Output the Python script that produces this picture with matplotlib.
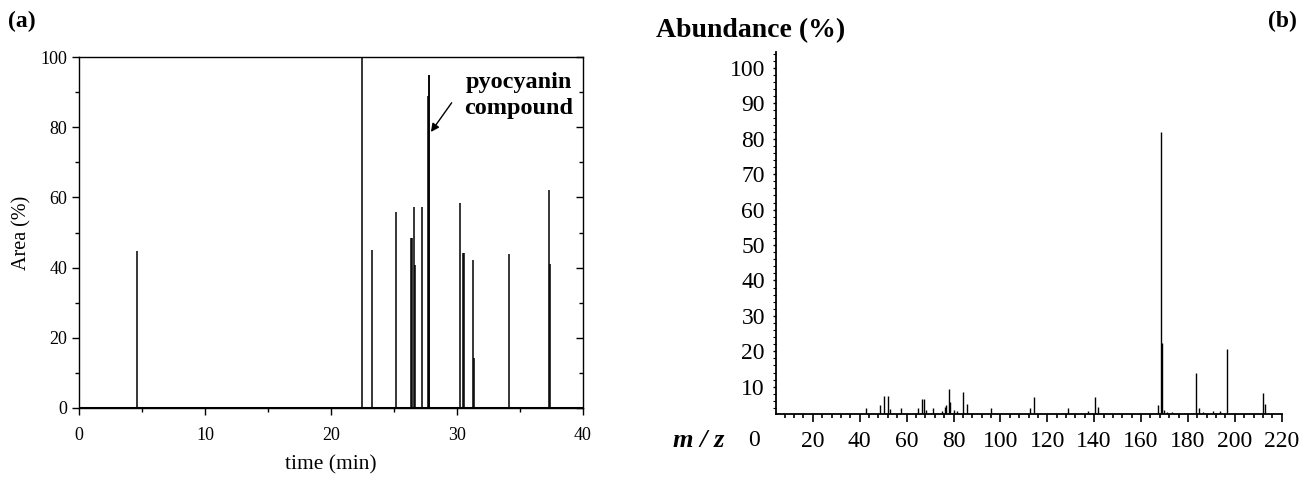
import matplotlib.pyplot as plt
from matplotlib.ticker import MultipleLocator

plt.rcParams['font.family'] = ['Liberation Serif', 'DejaVu Serif']

# (a) chromatogram peaks
rt_min = [4.6, 22.44, 23.25, 25.13, 26.36, 26.42, 26.59, 26.67, 27.22,
          27.67, 27.75, 27.80, 30.24, 30.45, 30.56, 31.27, 31.35, 34.13,
          37.33, 37.40]
area_pct = [44.6, 100.0, 44.9, 55.7, 48.3, 48.3, 57.4, 40.8, 57.4,
            89.0, 95.0, 95.0, 58.3, 44.3, 44.1, 42.2, 14.2, 43.8,
            62.1, 41.1]

# (b) mass spectrum
mz = [42.8, 48.5, 50.5, 52.1, 52.7, 57.4, 64.7, 66.4, 67.5, 68.1,
      71.2, 73.1, 74.9, 76.2, 76.8, 78.1, 78.5, 80.0, 81.4, 84.1,
      85.7, 96.0, 112.6, 114.2, 129.0, 137.3, 140.3, 141.5, 167.3, 168.4,
      168.8, 169.9, 170.9, 173.2, 178.2, 179.6, 183.3, 184.9, 186.3, 190.9,
      192.3, 193.7, 196.7, 211.9, 212.7]
abundance = [3.9, 4.8, 7.3, 7.3, 3.6, 3.9, 4.1, 6.4, 6.4, 3.4,
             3.9, 2.6, 3.1, 4.3, 4.8, 9.4, 5.7, 3.4, 3.1, 8.5,
             5.0, 3.9, 3.9, 7.2, 3.9, 3.1, 7.2, 4.3, 4.8, 82.0,
             22.3, 3.4, 2.9, 2.8, 2.7, 2.7, 13.9, 4.1, 2.9, 3.1,
             2.7, 3.1, 20.7, 8.1, 5.1]
mz_ticks = [20, 40, 60, 80, 100, 120, 140, 160, 180, 200, 220]
ab_ticks = [10, 20, 30, 40, 50, 60, 70, 80, 90, 100]

fig = plt.figure(figsize=(13.12, 4.8), dpi=100)

# ---- panel (a)
ax1 = fig.add_axes([0.0602, 0.15, 0.3842, 0.73125])
ax1.vlines(rt_min, 0, area_pct, color='black', linewidth=1.1)
ax1.axhline(0, color='black', linewidth=2.2)
ax1.set_xlim(0, 40)
ax1.set_ylim(0, 100)
ax1.xaxis.set_major_locator(MultipleLocator(10))
ax1.xaxis.set_minor_locator(MultipleLocator(5))
ax1.yaxis.set_major_locator(MultipleLocator(20))
ax1.yaxis.set_minor_locator(MultipleLocator(10))
ax1.tick_params(which='major', direction='out', length=5, width=1, labelsize=13,
                right=True, top=False)
ax1.tick_params(axis='x', which='major', pad=9)
ax1.tick_params(which='minor', direction='out', length=3, width=1, right=True)
for t in ax1.yaxis.get_ticklines(minor=False)[1::2] + ax1.yaxis.get_ticklines(minor=True)[1::2]:
    t.set_marker(0)  # right spine ticks point inward
for s in ax1.spines.values():
    s.set_linewidth(1)
ax1.set_xlabel('time (min)', fontsize=15.5, labelpad=8)
ax1.set_ylabel('Area (%)', fontsize=14.5, labelpad=6)
ax1.annotate('', xy=(27.8, 78), xytext=(29.7, 87.6),
             arrowprops=dict(arrowstyle='-|>', color='black', lw=1, mutation_scale=12))
ax1.text(34.9, 89.0, 'pyocyanin\ncompound', ha='center', va='center',
         fontsize=17.5, fontweight='bold', linespacing=1.3)
fig.text(0.006, 0.955, '(a)', fontsize=17, fontweight='bold', va='center')

# ---- panel (b)
base = 2.3
ax2 = fig.add_axes([0.5915, 0.1375, 0.3854, 0.7548])
ax2.vlines(mz, base, abundance, color='black', linewidth=1.0)
ax2.set_xlim(4.3, 220)
ax2.set_ylim(base, 104.6)
ax2.set_xticks(mz_ticks)
ax2.set_yticks(ab_ticks)
ax2.xaxis.set_minor_locator(MultipleLocator(4))
ax2.yaxis.set_minor_locator(MultipleLocator(2))
ax2.spines['top'].set_visible(False)
ax2.spines['right'].set_visible(False)
ax2.spines['left'].set_linewidth(1.3)
ax2.spines['bottom'].set_linewidth(1.3)
ax2.tick_params(axis='x', which='major', direction='out', length=6, width=1.2,
                labelsize=17, pad=6)
ax2.tick_params(axis='x', which='minor', direction='out', length=3, width=1.2)
ax2.tick_params(axis='y', which='major', direction='out', length=2, width=1,
                labelsize=17, pad=6)
ax2.tick_params(axis='y', which='minor', direction='out', length=2, width=0.8)
fig.text(0.5747, 0.083, '0', fontsize=17, ha='center', va='center')
fig.text(0.5325, 0.083, 'm / z', fontsize=19, fontweight='bold', fontstyle='italic',
         ha='center', va='center')
fig.text(0.5, 0.937, 'Abundance (%)', fontsize=20, fontweight='bold', va='center')
fig.text(0.9885, 0.955, '(b)', fontsize=17, fontweight='bold', va='center', ha='right')

fig.savefig('out.png', dpi=100)
